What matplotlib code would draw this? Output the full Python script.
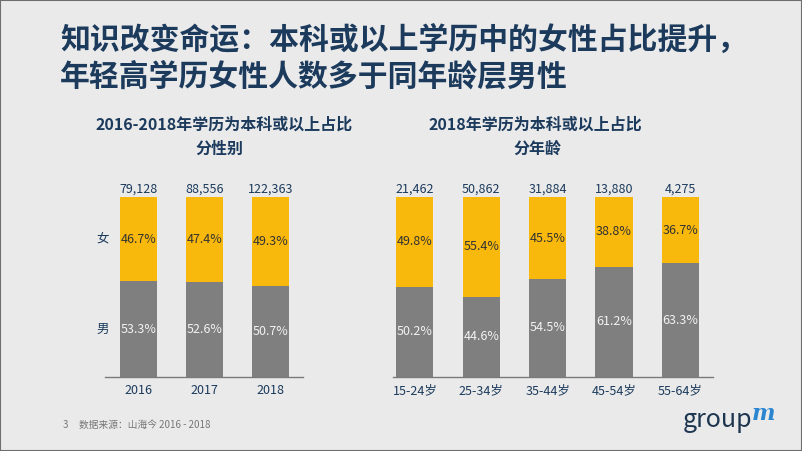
import numpy as np
import matplotlib.pyplot as plt

plt.rcParams['font.family'] = ['Noto Sans CJK SC', 'DejaVu Sans']

# data
years = ['2016', '2017', '2018']
year_total = ['79,128', '88,556', '122,363']
year_female = [46.7, 47.4, 49.3]
year_male = [53.3, 52.6, 50.7]

ages = ['15-24岁', '25-34岁', '35-44岁', '45-54岁', '55-64岁']
age_total = ['21,462', '50,862', '31,884', '13,880', '4,275']
age_female = [49.8, 55.4, 45.5, 38.8, 36.7]
age_male = [50.2, 44.6, 54.5, 61.2, 63.3]

navy = '#1B3A5C'
yellow = '#F9B80C'
grey = '#7F7F7F'
bg = '#EAEAEA'

fig = plt.figure(figsize=(8.02, 4.51), dpi=100, facecolor=bg)


def stacked(ax, cats, totals, female, male):
    x = np.arange(len(cats))
    m = np.array(male) / 100
    f = np.array(female) / 100
    ax.bar(x, m, width=0.56, color=grey)
    ax.bar(x, f, bottom=m, width=0.56, color=yellow)
    for i in x:
        ax.text(i, m[i] / 2, f'{male[i]}%', ha='center', va='center',
                color='#F2F2F2', fontsize=9)
        ax.text(i, m[i] + f[i] / 2, f'{female[i]}%', ha='center', va='center',
                color='#333333', fontsize=9)
        ax.text(i, 1.01, totals[i], ha='center', va='bottom',
                color=navy, fontsize=9)
    ax.set_xticks(x)
    ax.set_xticklabels(cats, fontsize=9, color=navy)
    ax.tick_params(axis='x', length=0, pad=5)
    ax.set_yticks([])
    ax.set_ylim(0, 1)
    ax.set_facecolor('none')
    for s in ['top', 'right', 'left']:
        ax.spines[s].set_visible(False)
    ax.spines['bottom'].set_color('#7A7A7A')
    ax.spines['bottom'].set_linewidth(1)
    return m, f


ax1 = fig.add_axes([0.131, 0.164, 0.247, 0.399])
ax1.set_xlim(-0.51, 2.49)
m1, f1 = stacked(ax1, years, year_total, year_female, year_male)
ax1.text(-0.54, m1[0] + f1[0] / 2, '女', ha='center', va='center',
         color=navy, fontsize=9)
ax1.text(-0.54, m1[0] / 2, '男', ha='center', va='center',
         color=navy, fontsize=9)

ax2 = fig.add_axes([0.490, 0.164, 0.399, 0.399])
ax2.set_xlim(-0.33, 4.49)
stacked(ax2, ages, age_total, age_female, age_male)

# titles
fig.text(0.075, 0.911, '知识改变命运：本科或以上学历中的女性占比提升，',
         fontsize=21.5, color=navy, weight='bold', va='center')
fig.text(0.075, 0.831, '年轻高学历女性人数多于同年龄层男性',
         fontsize=21.5, color=navy, weight='bold', va='center')

fig.text(0.280, 0.723, '2016-2018年学历为本科或以上占比', ha='center',
         va='center', fontsize=11.5, color=navy, weight='bold')
fig.text(0.274, 0.670, '分性别', ha='center', va='center',
         fontsize=11.5, color=navy, weight='bold')
fig.text(0.667, 0.723, '2018年学历为本科或以上占比', ha='center',
         va='center', fontsize=11.5, color=navy, weight='bold')
fig.text(0.670, 0.670, '分年龄', ha='center', va='center',
         fontsize=11.5, color=navy, weight='bold')

# footer
fig.text(0.078, 0.058, '3', fontsize=7, color='#777777', va='center')
fig.text(0.098, 0.058, '数据来源：山海今 2016 - 2018', fontsize=7,
         color='#777777', va='center')
fig.text(0.851, 0.053, 'group', fontsize=18, color='#1E3550',
         va='baseline', weight='medium')
fig.text(0.937, 0.069, 'm', fontsize=16, color='#2A86D1', va='baseline',
         style='italic', weight='bold', family='DejaVu Serif')

# frame
fig.patches.append(plt.Rectangle((0, 0), 1, 1, transform=fig.transFigure,
                                 fill=False, edgecolor='#6E6E6E', lw=1.5))

fig.savefig('out.png', dpi=100, facecolor=bg)
